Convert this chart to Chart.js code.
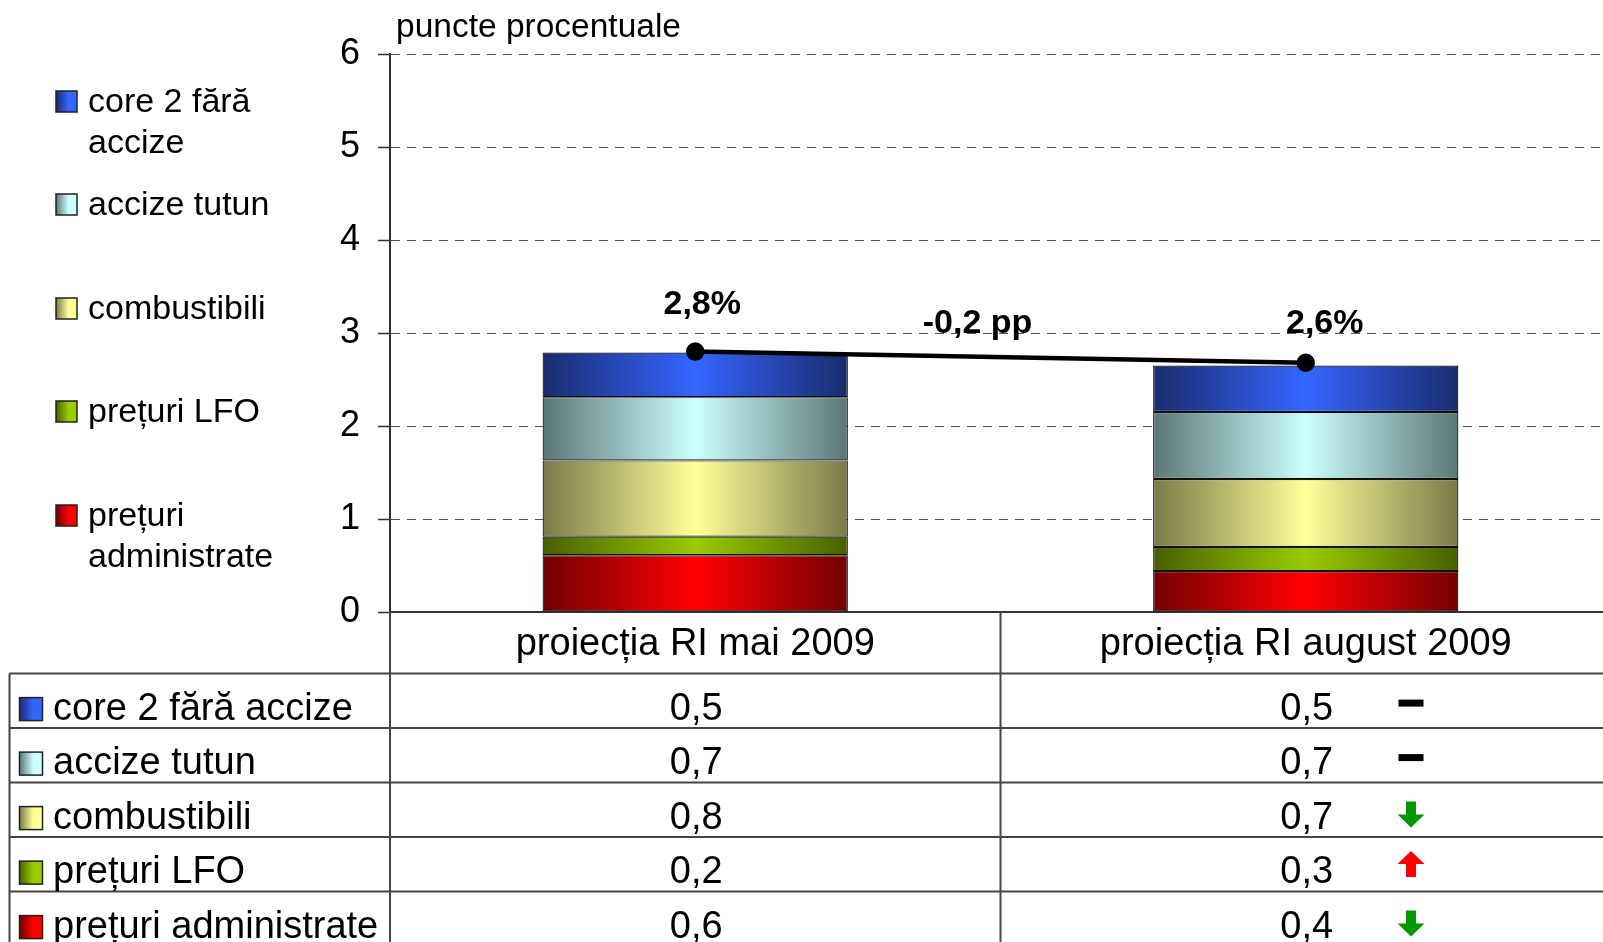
<!DOCTYPE html>
<html lang="ro">
<head>
<meta charset="utf-8">
<title>Contribuții la rata inflației</title>
<script src="https://cdn.jsdelivr.net/npm/chart.js"></script>
<style>
  html, body { margin: 0; padding: 0; background: #fff; overflow: hidden; }
  #contribChart { position: absolute; left: 0; top: 0; width: 1612px; height: 942px; }
</style>
</head>
<body>

<canvas id="contribChart" width="1612" height="942"></canvas>

<script>
    const categories = ['proiecția RI mai 2009', 'proiecția RI august 2009'];
    const seriesNames = ['core 2 fără accize', 'accize tutun', 'combustibili', 'prețuri LFO', 'prețuri administrate'];
    const legendLines = [['core 2 fără', 'accize'], ['accize tutun'], ['combustibili'], ['prețuri LFO'], ['prețuri', 'administrate']];

    // segment heights (puncte procentuale)
    const core2 = [0.48, 0.50];
    const tutun = [0.68, 0.72];
    const combustibili = [0.82, 0.73];
    const lfo = [0.20, 0.26];
    const administrate = [0.61, 0.44];

    const totalLine = [2.80, 2.68];
    const totalLabels = ['2,8%', '2,6%'];
    const diffLabel = '-0,2 pp';

    // table under the chart, rows in the same order as seriesNames
    const tableMai = ['0,5', '0,7', '0,8', '0,2', '0,6'];
    const tableAug = ['0,5', '0,7', '0,7', '0,3', '0,4'];
    const changes = ['same', 'same', 'down', 'up', 'down'];

    const yMin = 0, yMax = 6, yStep = 1;

    const brightCols = ['#3366ff', '#ccffff', '#ffff99', '#99cc00', '#ff0000'];
    const darkCols = ['#1a2c6e', '#5c7676', '#7a7a47', '#476000', '#720000'];
    const FONT = '"Liberation Sans", Arial, sans-serif';

    function barFill(i) {
        return function(c) {
            const xs = c.chart.scales.x;
            if (!xs || c.type !== 'data') return brightCols[i];
            const cx = xs.getPixelForValue(c.dataIndex);
            const w = xs.width / categories.length * 0.5;
            if (!isFinite(cx) || !w) return brightCols[i];
            const g = c.chart.ctx.createLinearGradient(cx - w / 2, 0, cx + w / 2, 0);
            g.addColorStop(0, darkCols[i]);
            g.addColorStop(0.5, brightCols[i]);
            g.addColorStop(1, darkCols[i]);
            return g;
        };
    }

    const seriesValues = [core2, tutun, combustibili, lfo, administrate];
    // stack from the bottom: administrate first
    const barSets = seriesValues.map((vals, i) => ({
        type: 'bar',
        label: seriesNames[i],
        data: vals,
        backgroundColor: barFill(i),
        borderColor: '#111',
        borderWidth: 1.2,
        borderSkipped: false,
        stack: 'contrib',
        order: 1
    })).reverse();

    const lineSet = {
        type: 'line',
        label: 'total',
        data: totalLine,
        borderColor: '#000',
        borderWidth: 4.5,
        pointRadius: 7,
        pointBackgroundColor: '#000',
        pointBorderColor: '#000',
        stack: 'total',
        order: 0
    };

    function drawArrow(ctx, cx, top, dir, color) {
        // 27 wide, 26 tall block arrow
        const hw = 13.5, sw = 5, h = 26, head = 13;
        ctx.fillStyle = color;
        ctx.beginPath();
        if (dir === 'down') {
            ctx.moveTo(cx - sw, top);
            ctx.lineTo(cx + sw, top);
            ctx.lineTo(cx + sw, top + h - head);
            ctx.lineTo(cx + hw, top + h - head);
            ctx.lineTo(cx, top + h);
            ctx.lineTo(cx - hw, top + h - head);
            ctx.lineTo(cx - sw, top + h - head);
        } else {
            ctx.moveTo(cx, top);
            ctx.lineTo(cx + hw, top + head);
            ctx.lineTo(cx + sw, top + head);
            ctx.lineTo(cx + sw, top + h);
            ctx.lineTo(cx - sw, top + h);
            ctx.lineTo(cx - sw, top + head);
            ctx.lineTo(cx - hw, top + head);
        }
        ctx.closePath();
        ctx.fill();
    }

    function drawSwatch(ctx, x, y, s, i) {
        const g = ctx.createLinearGradient(x, 0, x + s, 0);
        g.addColorStop(0, darkCols[i]);
        g.addColorStop(0.6, brightCols[i]);
        g.addColorStop(1, brightCols[i]);
        ctx.fillStyle = g;
        ctx.fillRect(x, y, s, s);
        ctx.strokeStyle = '#222';
        ctx.lineWidth = 1.5;
        ctx.strokeRect(x, y, s, s);
    }

    const decor = {
        id: 'decor',
        afterDraw(chart) {
            const ctx = chart.ctx;
            const xs = chart.scales.x;
            const area = chart.chartArea;
            const W = chart.width, H = chart.height;
            ctx.save();

            // unit label
            ctx.fillStyle = '#000';
            ctx.font = '33.5px ' + FONT;
            ctx.textAlign = 'left';
            ctx.textBaseline = 'alphabetic';
            ctx.fillText('puncte procentuale', 396, 37);

            // legend on the left
            const legY = [103, 206, 310, 413, 517];
            ctx.font = '34px ' + FONT;
            ctx.textBaseline = 'middle';
            legendLines.forEach((lines, i) => {
                drawSwatch(ctx, 56, legY[i] - 12, 21, i);
                ctx.fillStyle = '#000';
                lines.forEach((t, k) => ctx.fillText(t, 88, legY[i] + k * 41));
            });

            // totals above the line points
            const pts = chart.getDatasetMeta(chart.data.datasets.length - 1).data;
            const lift = [47, 39], dx = [7, 19];
            ctx.font = 'bold 34px ' + FONT;
            ctx.textAlign = 'center';
            pts.forEach((p, i) => ctx.fillText(totalLabels[i], p.x + dx[i], p.y - lift[i]));
            const midX = (pts[0].x + pts[1].x) / 2, midY = (pts[0].y + pts[1].y) / 2;
            ctx.fillText(diffLabel, midX - 23, midY - 34);

            // table under the plot
            const bottom = area.bottom;
            const split = (xs.getPixelForValue(0) + xs.getPixelForValue(1)) / 2;
            const rowTop0 = bottom + 61.6, rowH = 54.5;
            ctx.strokeStyle = '#444';
            ctx.lineWidth = 2;
            ctx.beginPath();
            ctx.moveTo(area.left, bottom); ctx.lineTo(area.left, H);
            ctx.moveTo(split, bottom); ctx.lineTo(split, H);
            ctx.moveTo(9.5, rowTop0); ctx.lineTo(9.5, H);
            for (let r = 0; r < seriesNames.length; r++) {
                const y = rowTop0 + r * rowH;
                ctx.moveTo(9.5, y); ctx.lineTo(W, y);
            }
            ctx.stroke();

            ctx.fillStyle = '#000';
            ctx.font = '38px ' + FONT;
            ctx.textBaseline = 'alphabetic';
            ctx.textAlign = 'center';
            categories.forEach((c, i) => ctx.fillText(c, xs.getPixelForValue(i), bottom + 43));

            seriesNames.forEach((name, r) => {
                const top = rowTop0 + r * rowH;
                drawSwatch(ctx, 19.5, top + 24, 23, r);
                ctx.fillStyle = '#000';
                ctx.textAlign = 'left';
                ctx.fillText(name, 53, top + 46);
                ctx.textAlign = 'center';
                ctx.fillText(tableMai[r], xs.getPixelForValue(0) + 1, top + 46);
                ctx.fillText(tableAug[r], xs.getPixelForValue(1) + 1, top + 46);
                const ix = 1411;
                if (changes[r] === 'same') {
                    ctx.fillRect(ix - 12.5, top + 26, 25, 7);
                } else if (changes[r] === 'down') {
                    drawArrow(ctx, ix, top + 19, 'down', '#009900');
                } else {
                    drawArrow(ctx, ix, top + 14, 'up', '#ff0000');
                }
            });
            ctx.restore();
        }
    };

    const ctx = document.getElementById('contribChart').getContext('2d');
    new Chart(ctx, {
        data: {
            labels: categories,
            datasets: [...barSets, lineSet]
        },
        options: {
            responsive: false,
            animation: false,
            devicePixelRatio: 1,
            layout: { autoPadding: false, padding: { top: 54, right: 1, bottom: 330, left: 0 } },
            datasets: { bar: { barPercentage: 0.5, categoryPercentage: 1.0 } },
            scales: {
                x: {
                    stacked: true,
                    ticks: { display: false },
                    grid: { display: false, drawTicks: false },
                    border: { display: true, color: '#333', width: 2 },
                    afterFit: s => { s.height = 0; }
                },
                y: {
                    stacked: true,
                    min: yMin,
                    max: yMax,
                    ticks: {
                        stepSize: yStep,
                        color: '#000',
                        padding: 18,
                        font: { family: FONT, size: 36 }
                    },
                    grid: {
                        color: '#555',
                        lineWidth: 1,
                        drawTicks: true,
                        tickLength: 12,
                        tickColor: '#333',
                        tickWidth: 1.5
                    },
                    border: { display: true, color: '#333', width: 2, dash: [9, 7] },
                    afterFit: s => { s.width = 390; }
                }
            },
            plugins: {
                legend: { display: false },
                tooltip: { enabled: false }
            }
        },
        plugins: [decor]
    });
</script>

</body>
</html>
